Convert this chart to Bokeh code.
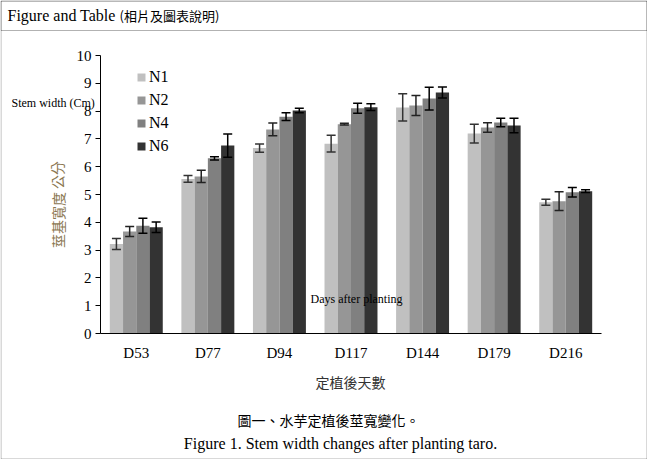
from bokeh.plotting import figure
from bokeh.models import (Range1d, ColumnDataSource, Whisker, Legend, LegendItem,
                          Label, BoxAnnotation, LinearAxis, FixedTicker)
from bokeh.transform import dodge
from bokeh.embed import file_html
from bokeh.resources import INLINE

days = ["D53", "D77", "D94", "D117", "D144", "D179", "D216"]
series = ["N1", "N2", "N4", "N6"]
N1 = [3.22, 5.56, 6.67, 6.83, 8.13, 7.19, 4.72]
N2 = [3.67, 5.65, 7.34, 7.53, 8.20, 7.41, 4.76]
N4 = [3.88, 6.30, 7.80, 8.10, 8.45, 7.59, 5.08]
N6 = [3.82, 6.76, 8.02, 8.14, 8.67, 7.48, 5.12]
E1 = [0.20, 0.12, 0.15, 0.30, 0.49, 0.34, 0.11]
E2 = [0.18, 0.22, 0.23, 0.03, 0.36, 0.17, 0.34]
E4 = [0.27, 0.06, 0.14, 0.18, 0.41, 0.15, 0.17]
E6 = [0.19, 0.42, 0.08, 0.12, 0.20, 0.26, 0.05]
y_ticks = [0, 1, 2, 3, 4, 5, 6, 7, 8, 9, 10]

colors = ["#c0c0c0", "#969696", "#808080", "#333333"]
whisker_colors = ["#333333", "#222222", "#000000", "#000000"]
offsets = [-0.2775, -0.0925, 0.0925, 0.2775]
bar_w = 0.185

SERIF = "Liberation Serif"
CJK = "Noto Sans CJK TC"

W, H = 647, 459
# chart area inside the canvas (pixels): axes at x=100..601, y=55..333
AX_L, AX_R, AX_T, AX_B = 100, 601, 55, 333
n = len(days)
ppx = (AX_R - AX_L) / n            # px per category
ppy = (AX_B - AX_T) / 10.0         # px per unit

def sx(px):
    return (px - AX_L) / ppx

def sy(py):
    return (AX_B - py) / ppy

vals = [N1, N2, N4, N6]
errs = [E1, E2, E4, E6]
centers = [i + 0.5 for i in range(n)]
data = {"day": days, "pos": centers}
for s, v, e in zip(series, vals, errs):
    data[s] = v
    data[s + "_up"] = [a + b for a, b in zip(v, e)]
    data[s + "_lo"] = [a - b for a, b in zip(v, e)]
src = ColumnDataSource(data)

p = figure(x_range=Range1d(sx(0), sx(W)), y_range=Range1d(sy(H), sy(0)),
           width=W, height=H, output_backend="svg", toolbar_location=None,
           x_axis_location=None, y_axis_location=None,
           min_border_left=0, min_border_right=0, min_border_top=0,
           min_border_bottom=0)
p.outline_line_color = None
p.xgrid.visible = False
p.ygrid.visible = False
p.background_fill_color = "white"
p.border_fill_color = "white"

renderers = []
for s, c, wc, off in zip(series, colors, whisker_colors, offsets):
    r = p.vbar(x=dodge("pos", off), top=s, width=bar_w,
               source=src, fill_color=c, line_color=None)
    renderers.append(r)
    w = Whisker(base=dodge("pos", off), upper=s + "_up",
                lower=s + "_lo", source=src, line_color=wc, line_width=1.5,
                level="overlay")
    w.upper_head.size = 9
    w.lower_head.size = 9
    w.upper_head.line_color = wc
    w.lower_head.line_color = wc
    w.upper_head.line_width = 1.5
    w.lower_head.line_width = 1.5
    p.add_layout(w)

# axes drawn inside the canvas at fixed locations
yaxis = LinearAxis(fixed_location=0, bounds=(0, 10), ticker=FixedTicker(ticks=y_ticks),
                   major_tick_out=5, major_tick_in=0, minor_tick_out=0, minor_tick_in=0,
                   major_label_standoff=4, major_label_text_font=SERIF,
                   major_label_text_font_size="15px", major_label_text_color="black",
                   axis_line_color="black")
p.add_layout(yaxis, "left")
xaxis = LinearAxis(fixed_location=0, bounds=(0, n), ticker=FixedTicker(ticks=centers),
                   major_label_overrides={c: d for c, d in zip(centers, days)},
                   major_tick_out=0, major_tick_in=0, minor_tick_out=0, minor_tick_in=0,
                   major_label_standoff=11, major_label_text_font=SERIF,
                   major_label_text_font_size="15px", major_label_text_color="black",
                   axis_line_color="black")
p.add_layout(xaxis, "below")

legend = Legend(items=[LegendItem(label=s, renderers=[r]) for s, r in zip(series, renderers)],
                location=(136, 304), orientation="vertical",
                glyph_width=10, glyph_height=10, label_height=14, spacing=5,
                label_standoff=3, padding=0, margin=0,
                border_line_alpha=0, background_fill_alpha=0,
                label_text_font=SERIF, label_text_font_size="16px",
                label_text_color="black")
p.add_layout(legend)

# outer frame and header box
p.add_layout(BoxAnnotation(left=sx(0.5), right=sx(W - 0.5), top=sy(0.5), bottom=sy(H - 0.5),
                           fill_alpha=0, line_color="black", line_width=1, level="overlay"))
p.add_layout(BoxAnnotation(left=sx(0.5), right=sx(W - 0.5), top=sy(0.5), bottom=sy(30),
                           fill_alpha=0, line_color="black", line_width=1, level="overlay"))

def lab(x, y, text, font, size, color="black", align="left", angle=0):
    p.add_layout(Label(x=sx(x), y=sy(y), text=text,
                       text_font=font, text_font_size=size, text_color=color,
                       text_baseline="middle", text_align=align, angle=angle,
                       level="overlay"))

lab(7, 15, "Figure and Table", SERIF, "16px")
lab(119, 15, "(相片及圖表說明)", CJK, "13px")
lab(11, 102, "Stem width (Cm)", SERIF, "12px")
lab(57, 204, "莖基寬度 公分", CJK, "14px", color="#8a7650", align="center", angle=1.5708)
lab(356, 298, "Days after planting", SERIF, "12px", align="center")
lab(350, 381, "定植後天數", CJK, "14px", color="#333333", align="center")
lab(328, 419, "圖一、水芋定植後莖寬變化。", CJK, "14px", align="center")
lab(340, 443, "Figure 1. Stem width changes after planting taro.", SERIF, "16px", align="center")

open("out.html", "w").write(file_html(p, INLINE))
